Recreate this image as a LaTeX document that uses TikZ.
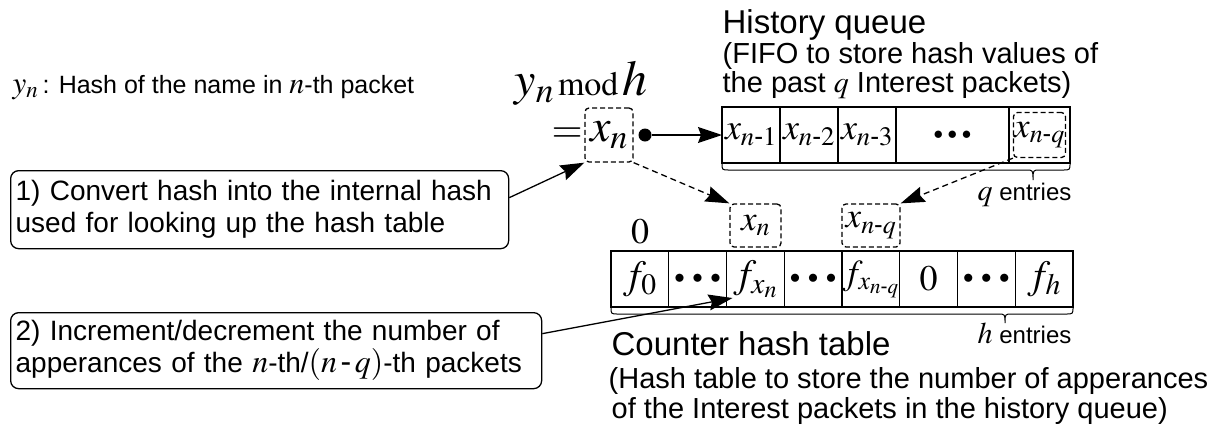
\documentclass[tikz,border=0pt]{standalone}
\usepackage{amsmath}
\usepackage{mathptmx}
\usepackage[no-math]{fontspec}
\setmainfont{Liberation Sans}
\usetikzlibrary{positioning,arrows.meta}

\newcommand{\hy}{\text{-}}
\newcommand{\qdots}{{\fontsize{19}{19}\selectfont$\bullet\,\bullet\,\bullet$}}
\newcommand{\tdots}{{\fontsize{21}{21}\selectfont$\bullet\mkern4mu\bullet\mkern4mu\bullet$}}

\tikzset{
  cell/.style={draw,minimum height=56pt,inner sep=0pt,outer sep=0pt,anchor=north west,
    font=\fontsize{36}{36}\selectfont},
  tcell/.style={cell,minimum width=57.75pt,font=\fontsize{40}{40}\selectfont},
  hashbox/.style={draw,dash pattern=on 5pt off 3pt,rounded corners=4pt,inner sep=0pt,
    font=\fontsize{35}{35}\selectfont},
  notebox/.style={draw,rounded corners=8pt,align=left,anchor=north west,inner xsep=5pt,
    inner ysep=0pt,font=\fontsize{28}{32}\selectfont},
  label/.style={anchor=base west,inner sep=0pt},
  arr/.style={-{Stealth[length=24pt,width=16pt,inset=3pt]},line width=1.3pt},
  darr/.style={arr,dash pattern=on 6pt off 4pt},
}

\begin{document}
\begin{tikzpicture}[x=1pt,y=-1pt,line width=1.3pt]
    \useasboundingbox (0,0) rectangle (1221,432);
    %% Legend
    \node[label,font=\fontsize{25}{30}\selectfont] (legend) at (12,93) {{\fontsize{31}{31}\selectfont$y_n$}\,: Hash of the name in {\fontsize{30}{30}\selectfont$n$}-th packet};
    %% Internal hash
    \node[label] (modh) at (514,95) {{\fontsize{48}{48}\selectfont$y_n$}{\fontsize{34}{34}\selectfont$\,\mathrm{mod}\,$}{\fontsize{50}{50}\selectfont$h$}};
    \node[hashbox,minimum width=48pt,minimum height=54pt,font=\fontsize{46}{46}\selectfont] (xn) at (609,135) {$x_n$};
    \node[left=1pt of xn,inner sep=0pt,font=\fontsize{40}{40}\selectfont] (eq) {$=$};
    \node[circle,fill,inner sep=0pt,minimum size=13pt] (dot) at (645,135) {};
    %% History queue
    \node[label,font=\fontsize{33}{36}\selectfont] (qtitle) at (722,33) {History queue};
    \node[label,font=\fontsize{29}{30}\selectfont] (qnote1) at (722,63) {(FIFO to store hash values of};
    \node[label,font=\fontsize{29}{30}\selectfont] (qnote2) at (722,92) {the past {\fontsize{30}{30}\selectfont$q$} Interest packets)};
    \node[cell,minimum width=58pt] (q1) at (722,107) {$x_{n\hy1}$};
    \node[cell,minimum width=58pt] (q2) at (q1.north east) {$x_{n\hy2}$};
    \node[cell,minimum width=58pt] (q3) at (q2.north east) {$x_{n\hy3}$};
    \node[cell,minimum width=113pt] (q4) at (q3.north east) {\qdots};
    \node[cell,minimum width=61pt] (q5) at (q4.north east) {};
    \node[hashbox,minimum width=52pt,minimum height=45pt] (xnq) at (q5) {$x_{n\hy q}$};
    \draw[line width=1pt] (722,163) .. controls (722,170) .. (729,170) -- (1026,170)
      .. controls (1033,170) .. (1033,180) .. controls (1033,170) .. (1040,170)
      -- (1063,170) .. controls (1070,170) .. (1070,163);
    \node[label,font=\fontsize{24}{24}\selectfont] (qent) at (977,200) {{\fontsize{30}{30}\selectfont$q$} entries};
    %% Counter hash table
    \node[anchor=base,inner sep=0pt,font=\fontsize{36}{36}\selectfont] (zero) at (640,243) {$0$};
    \node[hashbox,minimum width=51pt,minimum height=43pt] (xnlow) at (755.5,225.5) {$x_n$};
    \node[hashbox,minimum width=58pt,minimum height=43pt] (xnqlow) at (871,225.5) {$x_{n\hy q}$};
    \foreach \c [count=\i] in {{$f_0$},{\tdots},{$f_{x_n}$},{\tdots},{\fontsize{35}{35}\selectfont$f_{x_{n\hy q}}$},{\fontsize{36}{36}\selectfont$0$},{\tdots},{$f_h$}}
      \node[tcell] (t\i) at ({611+57.75*(\i-1)},251) {\c};
    \draw[line width=1pt] (611,307) .. controls (611,314) .. (618,314) -- (998,314)
      .. controls (1005,314) .. (1005,323) .. controls (1005,314) .. (1012,314)
      -- (1066,314) .. controls (1073,314) .. (1073,307);
    \node[label,font=\fontsize{24}{24}\selectfont] (hent) at (977,343) {{\fontsize{30}{30}\selectfont$h$} entries};
    \node[label,font=\fontsize{33}{36}\selectfont] (ttitle) at (611,355) {Counter hash table};
    \node[label,font=\fontsize{29}{30}\selectfont] (tnote1) at (608,388) {(Hash table to store the number of apperances};
    \node[label,font=\fontsize{29}{30}\selectfont] (tnote2) at (611,418) {of the Interest packets in the history queue)};
    %% Notes
    \node[notebox,text width=488pt,minimum height=78pt] (convbox) at (10,170) {1) Convert hash into the internal hash\\used for looking up the hash table};
    \node[notebox,text width=521pt,minimum height=76pt] (incbox) at (10,312) {2) Increment/decrement the number of\\apperances of the {\fontsize{32}{32}\selectfont$n$}-th/{\fontsize{32}{32}\selectfont$(n\,\hy\,q)$}-th packets};
    %% Arrows
    \draw[arr] ([yshift=12pt]convbox.east) -- (xn.south west);
    \draw[arr] ([yshift=17pt]incbox.east) -- ([shift={(6pt,9pt)}]t3.south west);
    \draw[arr] (dot) -- (q1.west);
    \draw[darr] (xn.south east) -- (xnlow.north west);
    \draw[darr] (xnq.south west) -- (xnqlow.north east);
\end{tikzpicture}
\end{document}
